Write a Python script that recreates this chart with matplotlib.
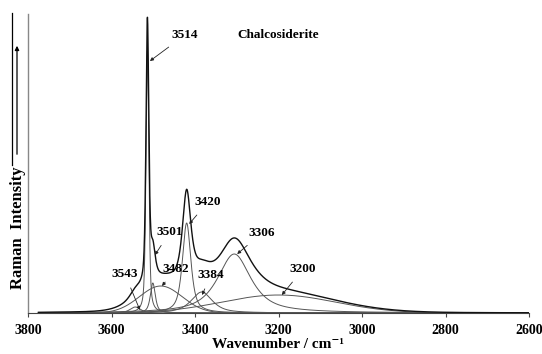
import numpy as np
import matplotlib
matplotlib.use("Agg")
import matplotlib.pyplot as plt
from matplotlib.lines import Line2D
from matplotlib.patches import FancyArrowPatch

# Fitted band parameters (Raman OH-stretching region)
band_centers = [3543, 3514, 3501, 3482, 3420, 3384, 3306, 3200]
band_heights = [6, 262, 30, 27, 90, 21, 59, 18]
band_fwhm = [30, 8, 14, 120, 24, 60, 95, 320]
band_lorentz = [0.5, 0.5, 0.7, 0.0, 0.7, 0.7, 0.8, 0.0]
band_labels = ["3543", "3514", "3501", "3482", "3420", "3384", "3306", "3200"]

# label position and arrow tip, in wavenumber / intensity units
label_xy = {
    "3514": (3424, 278), "3501": (3460, 81), "3482": (3446, 44),
    "3543": (3568, 39), "3384": (3362, 38), "3420": (3369, 111),
    "3306": (3240, 80), "3200": (3141, 44),
}
tip_xy = {
    "3514": (3508, 252), "3501": (3496, 58), "3482": (3479, 27),
    "3543": (3532, 3), "3384": (3383, 18), "3420": (3414, 89),
    "3306": (3299, 59), "3200": (3192, 18),
}

tick_values = [3800, 3600, 3400, 3200, 3000, 2800, 2600]


def band(x, c, h, w, eta):
    g = np.exp(-4 * np.log(2) * ((x - c) / w) ** 2)
    l = 1.0 / (1.0 + 4 * ((x - c) / w) ** 2)
    return h * (eta * l + (1 - eta) * g)


x = np.linspace(3775, 2600, 4000)
components = [band(x, c, h, w, e) for c, h, w, e in
              zip(band_centers, band_heights, band_fwhm, band_lorentz)]
total = np.sum(components, axis=0)

plt.rcParams["font.family"] = ["Liberation Serif", "DejaVu Serif"]
plt.rcParams["font.weight"] = "bold"

fig = plt.figure(figsize=(5.42, 3.54), dpi=100)
ax = fig.add_axes([28 / 542, 1 - 313 / 354, (529 - 28) / 542, (313 - 14) / 354])

for comp in components:
    ax.plot(x, comp, color="#555555", lw=0.7)
ax.plot(x, total, color="#111111", lw=1.0)

for lab in band_labels:
    ax.annotate(lab, xy=tip_xy[lab], xytext=label_xy[lab],
                fontsize=9.5, fontweight="bold", ha="center", va="center",
                arrowprops=dict(arrowstyle="-|>", color="#222222", lw=0.6,
                                mutation_scale=5, shrinkA=4, shrinkB=0))

ax.text(3201, 278, "Chalcosiderite", fontsize=9.5, fontweight="bold",
        ha="center", va="center")

ax.set_xlim(3800, 2600)
ax.set_ylim(0, 299)
ax.set_xticks(tick_values)
ax.set_xticklabels([str(t) for t in tick_values], fontsize=10, fontweight="bold")
ax.set_yticks([])
ax.tick_params(axis="x", direction="out", length=3, width=0.8, pad=5,
               color="#444444")
ax.spines["top"].set_visible(False)
ax.spines["right"].set_visible(False)
ax.spines["left"].set_color("#888888")
ax.spines["left"].set_linewidth(1.0)
ax.spines["bottom"].set_color("#444444")
ax.spines["bottom"].set_linewidth(0.8)

ax.set_xlabel("Wavenumber / cm\u207b\u00b9", fontsize=11, fontweight="bold",
              labelpad=1)
fig.text(18 / 542, 1 - 228 / 354, "Raman  Intensity", rotation=90,
         fontsize=12, fontweight="bold", ha="center", va="center")

# intensity arrow and side rule
fig.add_artist(Line2D([12 / 542, 12 / 542], [1 - 13 / 354, 1 - 165 / 354],
                      color="black", lw=0.9))
fig.add_artist(FancyArrowPatch(
    (17 / 542, 1 - 157 / 354), (17 / 542, 1 - 43 / 354),
    transform=fig.transFigure, arrowstyle="-|>", mutation_scale=6,
    color="black", lw=0.9))

fig.savefig("out.png", dpi=100)
